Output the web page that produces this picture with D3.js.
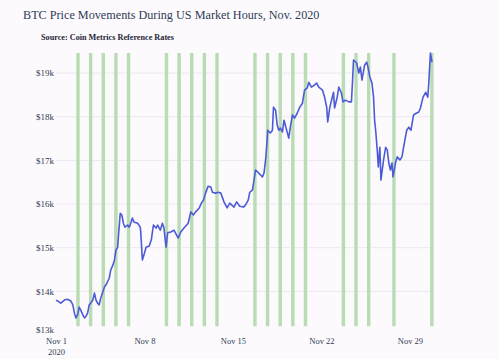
<!DOCTYPE html>
<html><head><meta charset="utf-8">
<script src="https://cdn.jsdelivr.net/npm/d3@7"></script>
<style>
html,body{margin:0;padding:0;background:#fdfafd;}
svg{display:block;}
</style></head>
<body>
<svg id="chart" width="499" height="359"></svg>
<script>
// ---- data ----
const times = [
"2020-11-01T00","2020-11-01T03","2020-11-01T09","2020-11-01T16","2020-11-01T22",
"2020-11-02T04","2020-11-02T08","2020-11-02T11","2020-11-02T14","2020-11-02T17","2020-11-02T20","2020-11-02T23",
"2020-11-03T03","2020-11-03T06","2020-11-03T09","2020-11-03T12","2020-11-03T15","2020-11-03T18","2020-11-03T22",
"2020-11-04T01","2020-11-04T04","2020-11-04T07","2020-11-04T10","2020-11-04T13","2020-11-04T17","2020-11-04T20","2020-11-04T23",
"2020-11-05T05","2020-11-05T08","2020-11-05T12","2020-11-05T15","2020-11-05T18","2020-11-05T21","2020-11-05T23",
"2020-11-06T02","2020-11-06T05","2020-11-06T08","2020-11-06T11","2020-11-06T16","2020-11-06T19","2020-11-06T22",
"2020-11-07T01","2020-11-07T04","2020-11-07T11","2020-11-07T16","2020-11-07T17","2020-11-07T20","2020-11-07T23",
"2020-11-08T03","2020-11-08T09","2020-11-08T13","2020-11-08T17","2020-11-08T22",
"2020-11-09T01","2020-11-09T06","2020-11-09T10","2020-11-09T13","2020-11-09T17","2020-11-09T20",
"2020-11-10T02","2020-11-10T08","2020-11-10T16","2020-11-10T21",
"2020-11-11T03","2020-11-11T11","2020-11-11T16","2020-11-11T21",
"2020-11-12T01","2020-11-12T08","2020-11-12T12","2020-11-12T16","2020-11-12T20",
"2020-11-13T01","2020-11-13T06","2020-11-13T09","2020-11-13T15","2020-11-13T20",
"2020-11-14T01","2020-11-14T07","2020-11-14T13","2020-11-14T18",
"2020-11-15T02","2020-11-15T07","2020-11-15T13","2020-11-15T20",
"2020-11-16T00","2020-11-16T05","2020-11-16T08","2020-11-16T13","2020-11-16T16","2020-11-16T19",
"2020-11-17T01","2020-11-17T08","2020-11-17T11","2020-11-17T14","2020-11-17T17","2020-11-17T18","2020-11-17T23",
"2020-11-18T03","2020-11-18T05","2020-11-18T09","2020-11-18T12","2020-11-18T15","2020-11-18T18","2020-11-18T22",
"2020-11-19T01","2020-11-19T05","2020-11-19T10","2020-11-19T13","2020-11-19T17","2020-11-19T21",
"2020-11-20T02","2020-11-20T07","2020-11-20T12","2020-11-20T16","2020-11-20T21",
"2020-11-21T00","2020-11-21T05","2020-11-21T10","2020-11-21T15","2020-11-21T19",
"2020-11-22T02","2020-11-22T06","2020-11-22T10","2020-11-22T12","2020-11-22T16","2020-11-22T23",
"2020-11-23T01","2020-11-23T06","2020-11-23T09","2020-11-23T14","2020-11-23T17","2020-11-23T22",
"2020-11-24T04","2020-11-24T09","2020-11-24T11","2020-11-24T13","2020-11-24T19","2020-11-24T23",
"2020-11-25T02","2020-11-25T05","2020-11-25T10","2020-11-25T14","2020-11-25T17","2020-11-25T20",
"2020-11-26T00","2020-11-26T03","2020-11-26T05","2020-11-26T07","2020-11-26T10","2020-11-26T12","2020-11-26T15","2020-11-26T17","2020-11-26T22",
"2020-11-27T02","2020-11-27T05","2020-11-27T08","2020-11-27T11","2020-11-27T14","2020-11-27T16","2020-11-27T21",
"2020-11-28T00","2020-11-28T05","2020-11-28T09","2020-11-28T12","2020-11-28T18","2020-11-28T22",
"2020-11-29T02","2020-11-29T07","2020-11-29T12","2020-11-29T17","2020-11-29T20",
"2020-11-30T01","2020-11-30T06","2020-11-30T10","2020-11-30T12","2020-11-30T15","2020-11-30T18"
];
const prices = [
13800,13780,13730,13800,13820,
13780,13690,13500,13390,13460,13640,13570,
13460,13390,13430,13500,13690,13730,13800,
13960,13800,13730,13690,13850,13990,14100,14150,
14300,14490,14600,14720,14950,15010,15340,
15790,15750,15560,15470,15520,15470,15560,
15680,15590,15560,15470,15340,14720,14830,
15010,15040,15180,15520,15450,
15520,15400,15560,15450,15010,15340,
15360,15400,15220,15360,
15450,15560,15820,15750,
15820,15910,16020,16090,16250,
16410,16390,16270,16250,16270,
16250,16050,15910,16020,
15930,16050,15950,15930,
15980,16090,16270,16320,16550,16780,
16710,16620,16710,17010,17470,17690,17630,
17690,18220,18150,17810,17690,17740,17650,
17920,17740,17510,17760,18040,17970,
18080,18220,18310,18610,18660,
18790,18680,18720,18770,18680,
18610,18450,18220,17880,18220,18560,
18200,18450,18680,18540,18340,18380,
18340,18340,18790,19300,19230,19000,
19140,18840,19180,19250,19110,18910,
18770,18450,17920,17690,17240,16850,17300,16550,17010,
17300,17240,16940,16780,16940,16620,16960,
17080,17010,17080,17300,17690,17760,
17690,18040,18080,18110,18200,
18450,18560,18450,18790,19460,19250
];
// US market sessions (UTC) on trading days
const marketDays = ["2020-11-02","2020-11-03","2020-11-04","2020-11-05","2020-11-06",
"2020-11-09","2020-11-10","2020-11-11","2020-11-12","2020-11-13",
"2020-11-16","2020-11-17","2020-11-18","2020-11-19","2020-11-20",
"2020-11-23","2020-11-24","2020-11-25","2020-11-27","2020-11-30"];
const marketOpen = "14:30", marketClose = "21:00";
const yTicks = [13000,14000,15000,16000,17000,18000,19000];
const yTickLabels = ["$13k","$14k","$15k","$16k","$17k","$18k","$19k"];
const xTicks = ["2020-11-01","2020-11-08","2020-11-15","2020-11-22","2020-11-29"];
const xTickLabels = ["Nov 1","Nov 8","Nov 15","Nov 22","Nov 29"];
const titleText = "BTC Price Movements During US Market Hours, Nov. 2020";
const subtitleText = "Source: Coin Metrics Reference Rates";

// ---- drawing ----
const parseHour = d3.utcParse("%Y-%m-%dT%H");
const parseDay = d3.utcParse("%Y-%m-%d");
const parseDT = d3.utcParse("%Y-%m-%d %H:%M");
const svg = d3.select("#chart");
const serif = "'Liberation Serif','Times New Roman',serif";
const textColor = "#2f3b55";

const x = d3.scaleUtc()
  .domain([parseHour("2020-11-01T00"), parseHour("2020-11-30T18")])
  .range([56, 432]);
const y = d3.scaleLinear().domain([13000, 19460]).range([335, 53]);

svg.append("rect").attr("width",499).attr("height",359).attr("fill","#fdfafd");

// gridlines
svg.append("g").selectAll("line").data(yTicks.slice(1)).join("line")
  .attr("x1", x.range()[0]).attr("x2", x.range()[1])
  .attr("y1", d => y(d)).attr("y2", d => y(d))
  .attr("stroke", "#ebe8ef").attr("stroke-width", 1);

// market-hours bands
svg.append("g").selectAll("rect").data(marketDays).join("rect")
  .attr("x", d => x(parseDT(d + " " + marketOpen)))
  .attr("width", d => x(parseDT(d + " " + marketClose)) - x(parseDT(d + " " + marketOpen)))
  .attr("y", y(19460))
  .attr("height", y(13200) - y(19460))
  .attr("fill", "#b9dcb4");

// price line
const pts = times.map((t, i) => [parseHour(t), prices[i]]);
svg.append("path").datum(pts)
  .attr("fill", "none").attr("stroke", "#4d5bd6").attr("stroke-width", 1.6)
  .attr("stroke-linejoin", "round")
  .attr("d", d3.line().x(d => x(d[0])).y(d => y(d[1])));

// y axis labels
const yAxis = d3.axisLeft(y).tickValues(yTicks)
  .tickFormat((d, i) => yTickLabels[i]).tickSize(0).tickPadding(2);
const gy = svg.append("g").attr("transform", "translate(56,0)").call(yAxis);
gy.select(".domain").remove();
gy.selectAll("text").attr("font-family", serif).attr("font-size", 9).attr("fill", textColor);
// lift the bottom label a touch so it clears the "Nov 1" date label
gy.selectAll(".tick").filter(d => d === yTicks[0]).select("text").attr("y", -5);

// x axis labels
const xAxis = d3.axisBottom(x).tickValues(xTicks.map(parseDay))
  .tickFormat((d, i) => xTickLabels[i]).tickSize(0).tickPadding(0);
const gx = svg.append("g").attr("transform", "translate(0,338)").call(xAxis);
gx.select(".domain").remove();
gx.selectAll("text").attr("font-family", serif).attr("font-size", 8.5).attr("fill", textColor);
gx.select(".tick").append("text").text("2020")
  .attr("y", 11).attr("dy", "0.71em").attr("fill", textColor)
  .attr("font-family", serif).attr("font-size", 8.5);

// titles
svg.append("text").text(titleText).attr("x", 23).attr("y", 19)
  .attr("font-family", serif).attr("font-size", 12.2).attr("fill", textColor);
svg.append("text").text(subtitleText).attr("x", 41).attr("y", 39.5)
  .attr("font-family", serif).attr("font-size", 8.2).attr("font-weight", "bold").attr("fill", "#1f2535");
</script>
</body></html>
